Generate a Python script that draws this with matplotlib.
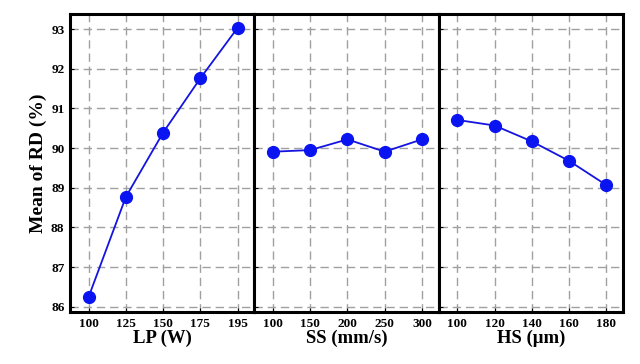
import matplotlib
matplotlib.use("Agg")
import matplotlib.pyplot as plt

lp_labels = ["100", "125", "150", "175", "195"]
lp_values = [86.25, 88.77, 90.39, 91.76, 93.03]
ss_labels = ["100", "150", "200", "250", "300"]
ss_values = [89.91, 89.95, 90.22, 89.91, 90.22]
hs_labels = ["100", "120", "140", "160", "180"]
hs_values = [90.71, 90.57, 90.17, 89.68, 89.07]
xlabels = ["LP (W)", "SS (mm/s)", "HS (μm)"]
yticks = [86, 87, 88, 89, 90, 91, 92, 93]

plt.rcParams['font.family'] = ['Liberation Serif', 'DejaVu Serif']

fig = plt.figure(figsize=(6.4, 3.64), dpi=100)
left, right, bottom, top = 70/640, 623/640, 1-312/364, 1-14/364
w = (right-left)/3
panels = [(lp_labels, lp_values), (ss_labels, ss_values), (hs_labels, hs_values)]
for i, (labs, vals) in enumerate(panels):
    ax = fig.add_axes([left + i*w, bottom, w, top-bottom])
    x = list(range(len(labs)))
    ax.plot(x, vals, color='#1414e0', lw=1.3, marker='o', ms=8.5, mfc='#0a14f0', mec='#0a14f0', zorder=3)
    ax.set_xlim(-0.5, 4.45)
    ax.set_ylim(85.87, 93.38)
    ax.set_xticks(x)
    ax.set_xticklabels(labs, fontsize=9.5, fontweight='bold')
    ax.set_yticks(yticks)
    if i == 0:
        ax.set_yticklabels([str(t) for t in yticks], fontsize=9.5, fontweight='bold')
        ax.set_ylabel("Mean of RD (%)", fontsize=14, fontweight='bold', labelpad=3)
    else:
        ax.set_yticklabels([])
    ax.tick_params(axis='both', direction='in', length=3, width=0.8, pad=4)
    ax.grid(True, color='#a0a0a0', linestyle=(0, (6, 3.5)), linewidth=1.0)
    ax.set_axisbelow(True)
    for s in ax.spines.values():
        s.set_linewidth(2.2)
        s.set_color('black')
    ax.set_xlabel(xlabels[i], fontsize=13.5, fontweight='bold', labelpad=0)

fig.savefig("out.png", dpi=100)
